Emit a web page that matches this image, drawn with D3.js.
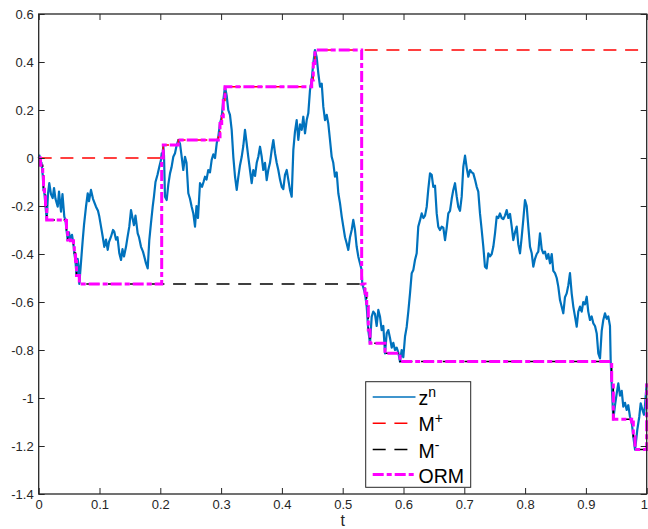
<!DOCTYPE html>
<html><head><meta charset="utf-8">
<script src="https://cdn.jsdelivr.net/npm/d3@7"></script>
<style>body{margin:0;background:#fff}svg{display:block}text{font-family:"Liberation Sans",Arial,Helvetica,sans-serif}</style>
</head><body><svg id="c" width="648" height="529"></svg>
<script>
// ---- data ----
const zT = [0.0000,0.0013,0.0030,0.0046,0.0066,0.0079,0.0095,0.0112,0.0132,0.0153,0.0174,0.0201,0.0230,0.0252,0.0276,0.0313,0.0334,0.0367,0.0391,0.0421,
0.0441,0.0457,0.0477,0.0498,0.0523,0.0548,0.0572,0.0586,0.0605,0.0622,0.0641,0.0655,0.0668,0.0688,0.0724,0.0745,0.0778,0.0806,0.0827,0.0860,
0.0893,0.0942,0.0975,0.0997,0.1025,0.1053,0.1079,0.1107,0.1135,0.1156,0.1189,0.1222,0.1243,0.1271,0.1296,0.1326,0.1354,0.1378,0.1403,0.1436,
0.1461,0.1490,0.1518,0.1543,0.1567,0.1592,0.1628,0.1650,0.1683,0.1715,0.1737,0.1765,0.1793,0.1819,0.1847,0.1875,0.1896,0.1921,0.1954,0.1984,
0.2011,0.2023,0.2036,0.2049,0.2061,0.2077,0.2105,0.2132,0.2160,0.2184,0.2214,0.2242,0.2266,0.2296,0.2324,0.2352,0.2378,0.2406,0.2431,0.2461,
0.2488,0.2516,0.2543,0.2571,0.2595,0.2620,0.2653,0.2686,0.2711,0.2735,0.2760,0.2789,0.2817,0.2845,0.2872,0.2900,0.2928,0.2954,0.2982,0.3010,
0.3036,0.3064,0.3092,0.3118,0.3146,0.3174,0.3201,0.3229,0.3257,0.3283,0.3311,0.3339,0.3365,0.3393,0.3421,0.3447,0.3475,0.3503,0.3530,0.3558,
0.3586,0.3612,0.3640,0.3668,0.3694,0.3722,0.3750,0.3776,0.3804,0.3832,0.3859,0.3887,0.3914,0.3941,0.3969,0.3997,0.4023,0.4051,0.4079,0.4105,
0.4133,0.4161,0.4188,0.4215,0.4243,0.4270,0.4298,0.4326,0.4352,0.4380,0.4408,0.4434,0.4462,0.4490,0.4516,0.4544,0.4572,0.4599,0.4627,0.4655,
0.4681,0.4709,0.4737,0.4763,0.4791,0.4819,0.4845,0.4873,0.4901,0.4928,0.4956,0.4984,0.5010,0.5038,0.5066,0.5092,0.5120,0.5148,0.5174,0.5202,
0.5230,0.5257,0.5285,0.5312,0.5322,0.5367,0.5395,0.5421,0.5449,0.5477,0.5503,0.5531,0.5559,0.5586,0.5613,0.5641,0.5668,0.5696,0.5724,0.5750,
0.5778,0.5806,0.5832,0.5860,0.5888,0.5914,0.5942,0.5970,0.5997,0.6025,0.6053,0.6079,0.6107,0.6135,0.6161,0.6189,0.6217,0.6243,0.6271,0.6299,
0.6326,0.6354,0.6382,0.6408,0.6436,0.6464,0.6490,0.6518,0.6546,0.6572,0.6600,0.6628,0.6655,0.6683,0.6711,0.6737,0.6765,0.6793,0.6819,0.6847,
0.6875,0.6901,0.6929,0.6957,0.6984,0.7012,0.7039,0.7066,0.7094,0.7122,0.7148,0.7176,0.7204,0.7230,0.7258,0.7286,0.7313,0.7340,0.7368,0.7395,
0.7423,0.7451,0.7477,0.7505,0.7533,0.7559,0.7587,0.7615,0.7641,0.7669,0.7697,0.7724,0.7752,0.7780,0.7806,0.7834,0.7862,0.7888,0.7916,0.7944,
0.7970,0.7998,0.8026,0.8053,0.8081,0.8109,0.8135,0.8163,0.8191,0.8217,0.8245,0.8273,0.8299,0.8327,0.8355,0.8382,0.8410,0.8438,0.8464,0.8492,
0.8520,0.8546,0.8574,0.8602,0.8628,0.8656,0.8684,0.8711,0.8738,0.8766,0.8793,0.8821,0.8849,0.8875,0.8903,0.8931,0.8957,0.8985,0.9013,0.9039,
0.9067,0.9095,0.9122,0.9150,0.9178,0.9204,0.9232,0.9260,0.9286,0.9314,0.9342,0.9368,0.9396,0.9408,0.9424,0.9451,0.9479,0.9507,0.9533,0.9561,
0.9589,0.9615,0.9643,0.9671,0.9697,0.9725,0.9753,0.9780,0.9808,0.9829,0.9845,0.9878,0.9901,0.9931,0.9955,0.9970,1.0000];
const zV = [0,0.01,-0.03,-0.02,-0.07,-0.13,-0.15,-0.20,-0.258,-0.15,-0.105,-0.15,-0.167,-0.125,-0.17,-0.203,-0.14,-0.224,-0.15,-0.244,
-0.26,-0.30,-0.342,-0.31,-0.345,-0.32,-0.36,-0.396,-0.43,-0.49,-0.42,-0.45,-0.525,-0.46,-0.342,-0.28,-0.203,-0.147,-0.18,-0.133,
-0.17,-0.203,-0.22,-0.244,-0.286,-0.328,-0.37,-0.34,-0.383,-0.35,-0.328,-0.30,-0.307,-0.34,-0.33,-0.397,-0.425,-0.38,-0.41,-0.37,
-0.33,-0.286,-0.217,-0.25,-0.28,-0.24,-0.314,-0.33,-0.37,-0.39,-0.411,-0.439,-0.46,-0.342,-0.27,-0.203,-0.16,-0.10,-0.07,-0.036,
-0.008,0.019,0.0,0.054,0.01,-0.161,-0.175,-0.11,-0.064,-0.04,0.005,0.02,0.05,0.075,0.06,0.005,-0.05,0.005,-0.02,-0.147,
-0.17,-0.203,-0.231,-0.286,-0.20,-0.25,-0.105,-0.12,-0.10,-0.078,-0.09,-0.05,-0.06,-0.008,0.015,0.0,0.061,0.089,0.144,0.172,
0.24,0.297,0.26,0.2,0.18,0.117,0.005,-0.078,-0.133,-0.08,-0.03,0.005,0.05,0.117,0.06,0.005,-0.05,-0.105,-0.05,-0.075,
-0.02,0.005,0.047,0.005,-0.05,-0.02,-0.092,-0.05,-0.02,0.033,0.075,0.02,-0.02,-0.05,-0.09,-0.12,-0.13,-0.07,-0.05,-0.09,
-0.133,-0.161,0.033,0.11,0.158,0.075,0.14,0.117,0.172,0.103,0.158,0.186,0.283,0.325,0.394,0.45,0.42,0.353,0.297,0.31,
0.214,0.158,0.18,0.144,0.075,0.005,-0.02,-0.078,-0.06,-0.147,-0.189,-0.244,-0.286,-0.33,-0.356,-0.383,-0.33,-0.3,-0.258,-0.3,
-0.37,-0.411,-0.44,-0.467,-0.525,-0.564,-0.619,-0.717,-0.772,-0.661,-0.64,-0.65,-0.70,-0.633,-0.66,-0.717,-0.70,-0.814,-0.73,-0.717,
-0.75,-0.79,-0.77,-0.80,-0.79,-0.81,-0.848,-0.80,-0.83,-0.744,-0.703,-0.64,-0.564,-0.48,-0.467,-0.425,-0.397,-0.286,-0.26,-0.231,
-0.25,-0.24,-0.203,-0.13,-0.064,-0.07,-0.12,-0.115,-0.231,-0.286,-0.30,-0.286,-0.29,-0.342,-0.29,-0.231,-0.22,-0.17,-0.133,-0.105,
-0.16,-0.203,-0.22,-0.161,-0.036,0.01,-0.04,-0.078,-0.05,-0.06,-0.064,-0.09,-0.12,-0.14,-0.231,-0.3,-0.37,-0.453,-0.46,-0.397,
-0.41,-0.40,-0.37,-0.314,-0.244,-0.25,-0.231,-0.25,-0.255,-0.24,-0.217,-0.25,-0.233,-0.286,-0.342,-0.31,-0.286,-0.36,-0.397,-0.33,
-0.258,-0.175,-0.2,-0.286,-0.37,-0.397,-0.453,-0.42,-0.40,-0.39,-0.314,-0.38,-0.397,-0.39,-0.42,-0.40,-0.439,-0.40,-0.47,-0.48,
-0.50,-0.536,-0.592,-0.62,-0.647,-0.58,-0.564,-0.53,-0.48,-0.564,-0.619,-0.661,-0.703,-0.64,-0.619,-0.64,-0.60,-0.61,-0.578,-0.64,
-0.675,-0.66,-0.689,-0.70,-0.731,-0.814,-0.835,-0.72,-0.675,-0.647,-0.67,-0.66,-0.70,-0.848,-0.939,-1.089,-1.03,-0.981,-0.939,-0.99,
-0.97,-1.036,-1.02,-1.05,-1.03,-1.078,-1.10,-1.161,-1.215,-1.17,-1.133,-1.078,-1.022,-1.05,-1.07,-1.036,-0.94];

const mPlusT = [0,0.2049,0.2296,0.2954,0.2982,0.3010,0.3036,0.3064,0.4490,0.4516,0.4544,1.0];
const mPlusV = [0,0.054,0.075,0.089,0.144,0.172,0.24,0.297,0.325,0.394,0.45,0.45];

const mMinusT = [0,0.0030,0.0066,0.0079,0.0095,0.0112,0.0132,0.0441,0.0457,0.0477,0.0523,0.0572,0.0586,0.0605,0.0622,0.0668,
0.5367,0.5395,0.5421,0.5449,0.5696,0.5942,0.9424,0.9451,0.9753,0.9780,0.9808,1.0];
const mMinusV = [0,-0.03,-0.07,-0.13,-0.15,-0.20,-0.258,-0.26,-0.30,-0.342,-0.345,-0.36,-0.396,-0.43,-0.49,-0.525,
-0.564,-0.619,-0.717,-0.772,-0.814,-0.848,-0.939,-1.089,-1.10,-1.161,-1.215,-1.215];

const ormT = [0,0.0030,0.0066,0.0079,0.0095,0.0112,0.0132,0.0441,0.0457,0.0477,0.0523,0.0572,0.0586,0.0605,0.0622,0.0668,
0.2023,0.2049,0.2296,0.2954,0.2982,0.3010,0.3036,0.3064,0.4490,0.4516,0.4544,
0.5312,0.5367,0.5395,0.5421,0.5449,0.5696,0.5942,0.9424,0.9451,0.9753,0.9780,0.9808,1.0];
const ormV = [0,-0.03,-0.07,-0.13,-0.15,-0.20,-0.258,-0.26,-0.30,-0.342,-0.345,-0.36,-0.396,-0.43,-0.49,-0.525,
0.0,0.054,0.075,0.089,0.144,0.172,0.24,0.297,0.325,0.394,0.45,
-0.525,-0.564,-0.619,-0.717,-0.772,-0.814,-0.848,-0.939,-1.089,-1.10,-1.161,-1.215,-0.94];

const xTicks = [0,0.1,0.2,0.3,0.4,0.5,0.6,0.7,0.8,0.9,1];
const xTickLabels = ["0","0.1","0.2","0.3","0.4","0.5","0.6","0.7","0.8","0.9","1"];
const yTicks = [-1.4,-1.2,-1,-0.8,-0.6,-0.4,-0.2,0,0.2,0.4,0.6];
const yTickLabels = ["-1.4","-1.2","-1","-0.8","-0.6","-0.4","-0.2","0","0.2","0.4","0.6"];
const seriesNames = [["z","n"],["M","+"],["M","-"],["ORM",""]];
const xLabel = "t";

// ---- drawing ----
const L = 38.7, R = 646.7, T = 14, B = 494;
const svg = d3.select("#c");
const x = d3.scaleLinear().domain([0,1]).range([L,R]);
const y = d3.scaleLinear().domain([-1.4,0.6]).range([B,T]);
const axCol = "#262626";

const styles = [
  {stroke:"#0072BD", width:2.2, dash:null},
  {stroke:"#FF0000", width:1.5, dash:"13,8.7"},
  {stroke:"#000000", width:1.5, dash:"13,8.7"},
  {stroke:"#FF00FF", width:3, dash:"11,3,5,3"}
];

const g = svg.append("g");
const lineZ = d3.line().x((d,i)=>x(zT[i])).y(d=>y(d));
const stepLine = tArr => d3.line().curve(d3.curveStepAfter).x((d,i)=>x(tArr[i])).y(d=>y(d));

g.append("path").attr("d", lineZ(zV)).attr("fill","none")
  .attr("stroke",styles[0].stroke).attr("stroke-width",styles[0].width).attr("stroke-linejoin","round");
g.append("path").attr("d", stepLine(mPlusT)(mPlusV)).attr("fill","none")
  .attr("stroke",styles[1].stroke).attr("stroke-width",styles[1].width).attr("stroke-dasharray",styles[1].dash);
g.append("path").attr("d", stepLine(mMinusT)(mMinusV)).attr("fill","none")
  .attr("stroke",styles[2].stroke).attr("stroke-width",styles[2].width).attr("stroke-dasharray",styles[2].dash);
g.append("path").attr("d", stepLine(ormT)(ormV)).attr("fill","none")
  .attr("stroke",styles[3].stroke).attr("stroke-width",styles[3].width).attr("stroke-dasharray",styles[3].dash);

// axes
function styleAxis(sel){
  sel.selectAll(".domain").remove();
  sel.selectAll(".tick line").attr("stroke",axCol).attr("stroke-width",1);
  sel.selectAll(".tick text").attr("fill",axCol).style("font-size","13px")
     .style("font-family","'Liberation Sans',Arial,Helvetica,sans-serif");
}
const xb = svg.append("g").attr("transform",`translate(0,${B})`)
  .call(d3.axisBottom(x).tickValues(xTicks).tickFormat((d,i)=>xTickLabels[i]).tickSizeInner(-6).tickSizeOuter(0).tickPadding(6))
  .call(styleAxis);
xb.selectAll(".tick text").filter(d=>d===1).attr("text-anchor","end").attr("dx","0.8");
svg.append("g").attr("transform",`translate(0,${T})`)
  .call(d3.axisTop(x).tickValues(xTicks).tickFormat("").tickSizeInner(-6).tickSizeOuter(0))
  .call(styleAxis);
svg.append("g").attr("transform",`translate(${L},0)`)
  .call(d3.axisLeft(y).tickValues(yTicks).tickFormat((d,i)=>yTickLabels[i]).tickSizeInner(-6).tickSizeOuter(0).tickPadding(5))
  .call(styleAxis);
svg.append("g").attr("transform",`translate(${R},0)`)
  .call(d3.axisRight(y).tickValues(yTicks).tickFormat("").tickSizeInner(-6).tickSizeOuter(0))
  .call(styleAxis);

svg.append("rect").attr("x",L).attr("y",T).attr("width",R-L).attr("height",B-T)
  .attr("fill","none").attr("stroke",axCol).attr("stroke-width",1.3);

svg.append("text").attr("x",(L+R)/2).attr("y",526).attr("text-anchor","middle")
  .attr("fill",axCol).style("font-size","16px").text(xLabel);

// legend
const lg = svg.append("g");
lg.append("rect").attr("x",365.7).attr("y",381.7).attr("width",105).attr("height",105.6)
  .attr("fill","#fff").attr("stroke",axCol).attr("stroke-width",1);
const rowY = [397, 423.2, 449.5, 474.5];
seriesNames.forEach((nm,i)=>{
  const s = styles[i];
  const ln = lg.append("line").attr("x1",372.7).attr("x2",415.5).attr("y1",rowY[i]).attr("y2",rowY[i])
    .attr("stroke",s.stroke).attr("stroke-width", i===0?1.5:s.width);
  if(s.dash) ln.attr("stroke-dasharray",s.dash);
  const tx = lg.append("text").attr("x",418.5).attr("y",rowY[i]+8.2).attr("fill","#000").style("font-size","19.5px");
  tx.append("tspan").text(nm[0]);
  if(nm[1]) tx.append("tspan").attr("dy",-8).style("font-size","14px").text(nm[1]);
});
</script></body></html>
